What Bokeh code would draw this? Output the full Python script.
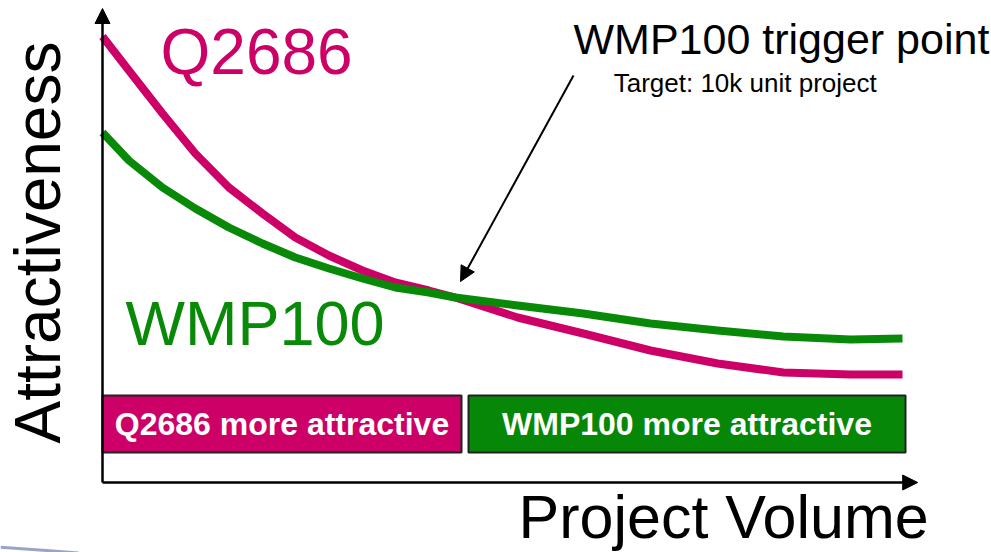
from bokeh.plotting import figure
from bokeh.models import Range1d, Label, Arrow, NormalHead, ColumnDataSource
from bokeh.embed import file_html
from bokeh.resources import INLINE
import math

# ---- data (project volume vs attractiveness, arbitrary units) ----
volume = [0, 0.33, 0.75, 1.16, 1.58, 2.0, 2.41, 2.83, 3.25, 3.66, 4.08, 4.41,
          5.19, 6.01, 6.85, 7.69, 8.51, 9.35, 10.0]
q2686 = [11.15, 10.3, 9.225, 8.225, 7.375, 6.725, 6.125, 5.675, 5.3, 5.0, 4.8, 4.625,
         4.125, 3.725, 3.3, 2.975, 2.75, 2.7, 2.7]
wmp100 = [8.75, 8.05, 7.375, 6.85, 6.375, 5.975, 5.625, 5.35, 5.1, 4.875, 4.75, 4.625,
          4.425, 4.225, 3.975, 3.8, 3.65, 3.575, 3.6]

region_labels = ["Q2686 more attractive", "WMP100 more attractive"]
region_start = [0.0, 4.575]
region_end = [4.4875, 10.0375]

trigger_volume = 4.475
trigger_attr = 5.025

MAGENTA = "#CC0066"
GREEN = "#088A08"
FONT = "Liberation Sans"

p = figure(width=991, height=552, output_backend="svg", toolbar_location=None,
           x_range=Range1d(-1.275, 11.1125), y_range=Range1d(-1.75, 12.05),
           x_axis_location=None, y_axis_location=None,
           min_border=0, min_border_left=0, min_border_right=0,
           min_border_top=0, min_border_bottom=0, outline_line_color=None)
p.grid.visible = False
p.background_fill_color = "white"
p.border_fill_color = "white"

# decorative swoosh bottom-left
p.line([-1.275, -0.7, -0.3], [-1.62, -1.7, -1.76], line_color="#6f7fa6",
       line_width=3, line_alpha=0.7)

# region boxes
src = ColumnDataSource(dict(left=region_start, right=region_end,
                            color=[MAGENTA, "#078707"], label=region_labels,
                            cx=[(a + b) / 2 for a, b in zip(region_start, region_end)]))
p.quad(left="left", right="right", bottom=0.75, top=2.175, fill_color="color",
       line_color="#222222", line_width=2, source=src)
p.text(x="cx", y=1.46, text="label", source=src, text_color="white",
       text_font={"value": FONT}, text_font_style="bold", text_font_size="32px",
       text_align="center", text_baseline="middle")

# curves
p.line(volume, q2686, line_color=MAGENTA, line_width=8, line_join="round", line_cap="butt")
p.line(volume, wmp100, line_color=GREEN, line_width=8, line_join="round", line_cap="butt")

# axes as arrows
p.add_layout(Arrow(x_start=0, y_start=0, x_end=0, y_end=11.85, line_width=2.5,
                   line_color="black",
                   end=NormalHead(size=15, fill_color="black", line_color="black")))
p.add_layout(Arrow(x_start=0, y_start=0, x_end=10.19, y_end=0, line_width=2.5,
                   line_color="black",
                   end=NormalHead(size=15, fill_color="black", line_color="black")))

# trigger arrow
p.add_layout(Arrow(x_start=5.8875, y_start=10.175, x_end=trigger_volume, y_end=trigger_attr,
                   line_width=2, line_color="black",
                   end=NormalHead(size=15, fill_color="black", line_color="black")))

def lab(x, y, t, size, color="black", align="left", baseline="alphabetic", angle=0, style="normal"):
    p.add_layout(Label(x=x, y=y, text=t, text_font=FONT, text_font_size=size,
                       text_color=color, text_align=align, text_baseline=baseline,
                       angle=angle, text_font_style=style))

lab(-0.806, 6.0, "Attractiveness", "64px", align="center", baseline="middle",
    angle=math.pi / 2)
lab(0.725, 10.775, "Q2686", "64px", color=MAGENTA)
lab(0.2875, 4.0, "WMP100", "63px", color=GREEN)
lab(5.8875, 11.1, "WMP100 trigger point", "43px")
lab(6.39, 9.98, "Target: 10k unit project", "26px")
lab(5.2, -0.87, "Project Volume", "61px")

open("out.html", "w").write(file_html(p, INLINE))
